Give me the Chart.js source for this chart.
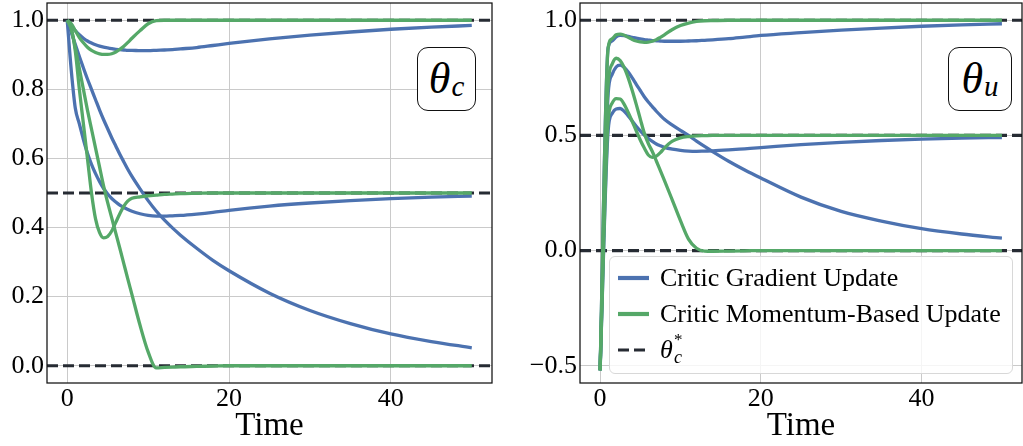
<!DOCTYPE html>
<html>
<head>
<meta charset="utf-8">
<script src="https://cdn.jsdelivr.net/npm/chart.js@4.4.1/dist/chart.umd.min.js"></script>
<style>
  html, body { margin: 0; padding: 0; background: #fff; }
  #wrap { position: relative; width: 1023px; height: 446px; overflow: hidden; font-family: "Liberation Serif", serif; }
  .pane { position: absolute; top: 0; }
  .tag {
    position: absolute; box-sizing: border-box; border: 1.2px solid #111; border-radius: 11px;
    background: #fff; display: flex; align-items: center; justify-content: center;
    font-family: "Liberation Serif", serif; font-style: italic; font-size: 44px; color: #000; line-height: 1;
  }
  .tag sub { font-size: 29px; position: relative; top: 7px; vertical-align: baseline; margin-left: 1px; }
  #legend {
    position: absolute; left: 609px; top: 256px; width: 404px; height: 118px; box-sizing: border-box;
    border: 1px solid #d8d8d8; border-radius: 6px; background: rgba(255,255,255,0.8);
    padding: 3px 0 0 8px; font-family: "Liberation Serif", serif; font-size: 26px; color: #000;
  }
  .row { height: 36px; display: flex; align-items: center; }
  .row svg { width: 31px; height: 8px; margin-right: 11px; flex: none; }
  .th { font-style: italic; position: relative; display: inline-block; padding-right: 12px; }
  .th .sup { position: absolute; left: 14px; top: -5px; font-size: 17px; font-style: normal; }
  .th .sub { position: absolute; left: 14px; top: 12px; font-size: 18px; }
</style>
</head>
<body>
<div id="wrap">
  <div class="pane" style="left:0"><canvas id="chartC" width="500" height="446"></canvas></div>
  <div class="pane" style="left:510px"><canvas id="chartU" width="513" height="446"></canvas></div>
  <div class="tag" style="left:417px;top:47px;width:59px;height:64px">θ<sub>c</sub></div>
  <div class="tag" style="left:948px;top:47px;width:64px;height:64px">θ<sub>u</sub></div>
  <div id="legend"></div>
</div>
<script>
// ---- data: theta_c panel ----
const timeC = [0, 0.5, 1, 1.5, 2, 2.5, 3, 3.5, 4, 4.5, 5, 5.5, 6, 6.5, 7, 7.5, 8, 9, 10, 11, 12, 13, 14, 16, 18, 20, 25, 30, 35, 40, 45, 50];
const gradC1 = [1, 0.985, 0.97, 0.958, 0.948, 0.94, 0.934, 0.929, 0.925, 0.922, 0.92, 0.918, 0.916, 0.915, 0.914, 0.913, 0.913, 0.912, 0.912, 0.913, 0.914, 0.915, 0.917, 0.921, 0.927, 0.933, 0.946, 0.957, 0.966, 0.974, 0.98, 0.985];
const gradC2 = [1, 0.855, 0.745, 0.7, 0.655, 0.615, 0.583, 0.556, 0.533, 0.513, 0.497, 0.484, 0.474, 0.465, 0.458, 0.452, 0.447, 0.44, 0.435, 0.433, 0.433, 0.434, 0.435, 0.439, 0.444, 0.45, 0.462, 0.471, 0.478, 0.484, 0.488, 0.491];
const gradC3 = [1, 0.965, 0.93, 0.895, 0.862, 0.83, 0.8, 0.77, 0.74, 0.712, 0.686, 0.66, 0.636, 0.612, 0.59, 0.568, 0.548, 0.512, 0.478, 0.448, 0.422, 0.399, 0.378, 0.34, 0.305, 0.275, 0.21, 0.16, 0.122, 0.092, 0.07, 0.052];
const momC1 = [1, 0.99, 0.97, 0.95, 0.935, 0.922, 0.913, 0.907, 0.903, 0.901, 0.901, 0.903, 0.908, 0.916, 0.925, 0.936, 0.948, 0.97, 0.99, 0.999, 1, 1, 1, 1, 1, 1, 1, 1, 1, 1, 1, 1];
const momC2 = [1, 0.975, 0.91, 0.8, 0.7, 0.6, 0.5, 0.425, 0.385, 0.37, 0.374, 0.39, 0.415, 0.44, 0.462, 0.477, 0.485, 0.489, 0.492, 0.494, 0.496, 0.497, 0.498, 0.499, 0.5, 0.5, 0.5, 0.5, 0.5, 0.5, 0.5, 0.5];
const momC3 = [1, 0.975, 0.92, 0.86, 0.8, 0.74, 0.685, 0.63, 0.575, 0.52, 0.472, 0.428, 0.384, 0.34, 0.295, 0.25, 0.206, 0.117, 0.04, -0.006, -0.005, -0.004, -0.003, -0.002, -0.001, 0, 0, 0, 0, 0, 0, 0];

// ---- data: theta_u panel ----
const timeU = [0, 1, 1.5, 2, 2.5, 3, 3.5, 4, 4.5, 5, 5.5, 6, 6.5, 7, 7.5, 8, 9, 10, 11, 12, 13, 14, 16, 18, 20, 25, 30, 35, 40, 45, 50];
const gradU1 = [-0.52, 0.88, 0.91, 0.928, 0.934, 0.933, 0.93, 0.926, 0.922, 0.919, 0.916, 0.914, 0.912, 0.911, 0.91, 0.909, 0.909, 0.909, 0.91, 0.911, 0.913, 0.915, 0.92, 0.927, 0.934, 0.946, 0.957, 0.966, 0.974, 0.98, 0.985];
const gradU2 = [-0.52, 0.68, 0.765, 0.797, 0.805, 0.795, 0.775, 0.75, 0.722, 0.695, 0.668, 0.645, 0.625, 0.605, 0.587, 0.57, 0.545, 0.522, 0.5, 0.475, 0.452, 0.43, 0.388, 0.35, 0.315, 0.232, 0.17, 0.128, 0.095, 0.072, 0.054];
const gradU3 = [-0.52, 0.52, 0.595, 0.615, 0.617, 0.605, 0.585, 0.563, 0.54, 0.52, 0.502, 0.487, 0.474, 0.463, 0.455, 0.448, 0.44, 0.435, 0.432, 0.431, 0.432, 0.433, 0.437, 0.442, 0.447, 0.46, 0.47, 0.478, 0.484, 0.488, 0.491];
const momU1 = [-0.52, 0.88, 0.92, 0.937, 0.94, 0.935, 0.926, 0.917, 0.91, 0.906, 0.904, 0.905, 0.909, 0.916, 0.926, 0.937, 0.96, 0.977, 0.988, 0.995, 0.998, 0.999, 1, 1, 1, 1, 1, 1, 1, 1, 1];
const momU2 = [-0.52, 0.72, 0.81, 0.835, 0.825, 0.795, 0.75, 0.695, 0.635, 0.572, 0.51, 0.465, 0.43, 0.389, 0.347, 0.305, 0.218, 0.13, 0.05, 0.01, -0.002, -0.003, -0.002, -0.001, 0, 0, 0, 0, 0, 0, 0];
const momU3 = [-0.52, 0.56, 0.64, 0.66, 0.658, 0.635, 0.6, 0.56, 0.52, 0.48, 0.445, 0.415, 0.405, 0.41, 0.425, 0.445, 0.475, 0.489, 0.495, 0.498, 0.499, 0.5, 0.5, 0.5, 0.5, 0.5, 0.5, 0.5, 0.5, 0.5, 0.5];

// optimal values (dashed reference lines)
const targets = [1.0, 0.5, 0.0];

// axes
const xTicks = [0, 20, 40];
const xRange = [-2.5, 52.5];
const yTicksC = [0, 0.2, 0.4, 0.6, 0.8, 1.0];
const yRangeC = [-0.05, 1.05];
const yTicksU = [-0.5, 0, 0.5, 1.0];
const yRangeU = [-0.575, 1.075];

const legendLabels = ['Critic Gradient Update', 'Critic Momentum-Based Update'];

const BLUE = '#4c72b0';
const GREEN = '#55a868';
const DARK = '#262b33';
const FONT = '"Liberation Serif", serif';

function toXY(t, v) {
    return t.map((x, i) => ({ x: x, y: v[i] }));
}

const framePlugin = {
    id: 'frame',
    afterDraw(chart) {
        const a = chart.chartArea;
        const ctx = chart.ctx;
        ctx.save();
        ctx.strokeStyle = '#111';
        ctx.lineWidth = 1.25;
        ctx.strokeRect(a.left, a.top, a.right - a.left, a.bottom - a.top);
        ctx.restore();
    }
};

function makeChart(id, time, grads, moms, yTicks, yRange, yWidth, padRight) {
    const datasets = [];
    targets.forEach(v => {
        datasets.push({
            data: [{ x: xRange[0], y: v }, { x: xRange[1], y: v }],
            borderColor: DARK, borderWidth: 3.2, borderDash: [11, 5], order: 3
        });
    });
    grads.forEach(s => {
        datasets.push({ data: toXY(time, s), borderColor: BLUE, borderWidth: 3.3, order: 2, cubicInterpolationMode: 'monotone' });
    });
    moms.forEach(s => {
        datasets.push({ data: toXY(time, s), borderColor: GREEN, borderWidth: 3.3, order: 1, cubicInterpolationMode: 'monotone' });
    });

    return new Chart(document.getElementById(id), {
        type: 'line',
        data: { datasets: datasets },
        plugins: [framePlugin],
        options: {
            responsive: false,
            animation: false,
            layout: { padding: { top: 3, right: padRight, left: 0, bottom: 0 } },
            elements: { point: { radius: 0 } },
            plugins: { legend: { display: false }, tooltip: { enabled: false } },
            scales: {
                x: {
                    type: 'linear', min: xRange[0], max: xRange[1],
                    afterBuildTicks: s => { s.ticks = xTicks.map(v => ({ value: v })); },
                    afterFit: s => { s.height = 63; s.paddingLeft = 0; s.paddingRight = 0; },
                    grid: { color: '#cacaca', lineWidth: 1, drawTicks: false },
                    border: { display: false },
                    ticks: { color: '#000', font: { family: FONT, size: 26 }, padding: 1, callback: v => String(v) },
                    title: { display: true, text: 'Time', color: '#000', font: { family: FONT, size: 33 }, padding: { top: 0, bottom: 0 } }
                },
                y: {
                    type: 'linear', min: yRange[0], max: yRange[1],
                    afterBuildTicks: s => { s.ticks = yTicks.map(v => ({ value: v })); },
                    afterFit: s => { s.width = yWidth; s.paddingTop = 0; s.paddingBottom = 0; },
                    grid: { color: '#cacaca', lineWidth: 1, drawTicks: false },
                    border: { display: false },
                    ticks: { color: '#000', font: { family: FONT, size: 26 }, padding: 3, callback: v => v.toFixed(1).replace('-', '\u2212') }
                }
            }
        }
    });
}

makeChart('chartC', timeC, [gradC1, gradC2, gradC3], [momC1, momC2, momC3], yTicksC, yRangeC, 47, 8);
makeChart('chartU', timeU, [gradU1, gradU2, gradU3], [momU1, momU2, momU3], yTicksU, yRangeU, 70, 1);

// legend (right panel)
function sample(color, dashed) {
    const dash = dashed ? ' stroke-dasharray="11 5"' : '';
    const w = dashed ? 3.2 : 4.2;
    return '<svg viewBox="0 0 31 8"><line x1="0" y1="4" x2="31" y2="4" stroke="' + color + '" stroke-width="' + w + '"' + dash + '/></svg>';
}
const legend = document.getElementById('legend');
legend.innerHTML =
    '<div class="row">' + sample(BLUE, false) + '<span>' + legendLabels[0] + '</span></div>' +
    '<div class="row">' + sample(GREEN, false) + '<span>' + legendLabels[1] + '</span></div>' +
    '<div class="row">' + sample(DARK, true) + '<span class="th">θ<span class="sup">*</span><span class="sub">c</span></span></div>';
</script>
</body>
</html>
